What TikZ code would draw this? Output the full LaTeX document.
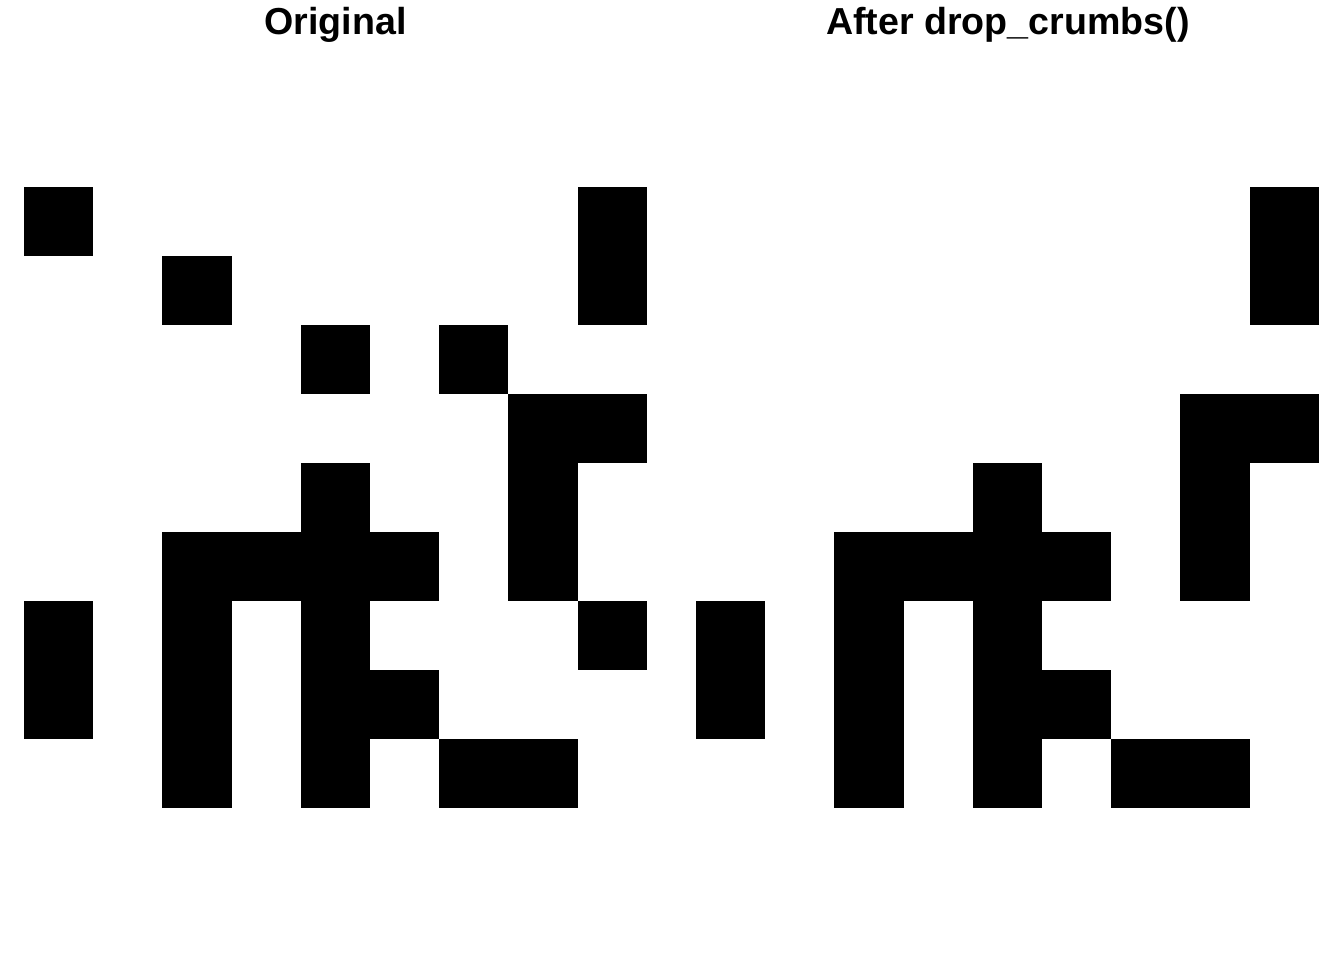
\documentclass[tikz,border=0pt]{standalone}
\usepackage{fontspec}
\setmainfont{Liberation Sans}
\begin{document}
\begin{tikzpicture}[x=0.5pt,y=-0.5pt]
\tikzstyle{cell}=[fill=black]
\tikzstyle{title}=[font=\fontsize{18.8}{22}\selectfont\bfseries,anchor=base,inner sep=0pt]
\useasboundingbox (0,0) rectangle (1344,960);
\node[title] (tOrig) at (335.5,34) {Original}; %%
\node[title] (tDrop) at (1008,34) {After drop\_crumbs()}; %%
% original grid
\begin{scope}[shift={(24,187)}]
\foreach \c/\r in {0/0,8/0,2/1,8/1,4/2,6/2,7/3,8/3,4/4,7/4,2/5,3/5,4/5,5/5,7/5,0/6,2/6,4/6,8/6,0/7,2/7,4/7,5/7,2/8,4/8,6/8,7/8}
  \fill[cell] (\c*69.2,\r*69) rectangle ++(69.2,69);
\end{scope}
% after drop_crumbs()
\begin{scope}[shift={(696,187)}]
\foreach \c/\r in {8/0,8/1,7/3,8/3,4/4,7/4,2/5,3/5,4/5,5/5,7/5,0/6,2/6,4/6,0/7,2/7,4/7,5/7,2/8,4/8,6/8,7/8}
  \fill[cell] (\c*69.2,\r*69) rectangle ++(69.2,69);
\end{scope}
\end{tikzpicture}
\end{document}
